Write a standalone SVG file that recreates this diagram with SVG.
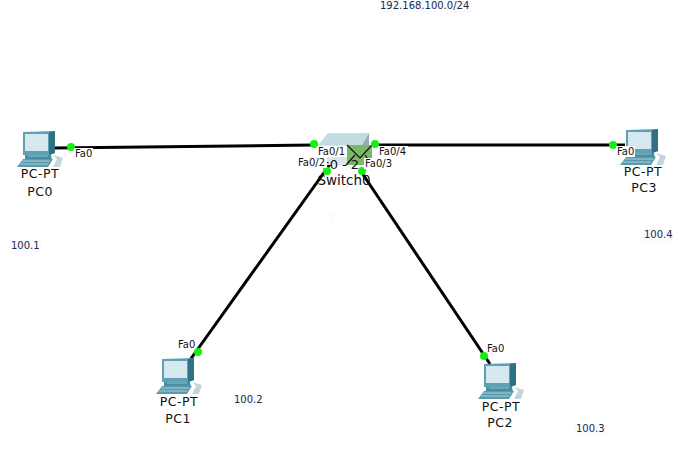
<svg xmlns="http://www.w3.org/2000/svg" width="687" height="458" viewBox="0 0 687 458">
<style>
text{font-family:"DejaVu Sans","Liberation Sans",sans-serif;fill:#111}
.name{font-size:12.5px;text-anchor:middle;letter-spacing:.5px}
.port{font-size:10px}
.note{font-size:10px;fill:#1a2a4a}
.lbl{fill:#fff}
.pale{fill:#fafbff}
.link{stroke:#000;stroke-width:3;fill:none}
.dot{fill:#14f014}
</style>
<defs>
<g id="pc">
<path d="M3 2L35 1V23L30 25H3Z" fill="#5fa0b3"/>
<path d="M29 2L35 1V23L29 25Z" fill="#2f7085"/>
<rect x="5" y="4" width="23" height="17" fill="#d6e8ef"/>
<path d="M5 25H31L32 30H5Z" fill="#4a8ea3"/>
<path d="M8 26H28" stroke="#8cc0cf"/>
<path d="M3 29H33L28 37H-3Z" fill="#5a9aad"/>
<path d="M2 31H30M0 34H28" stroke="#a6cfdb" fill="none"/>
<path d="M33 25L43 28L40 37H33L37 29Z" fill="#c2d6dc"/>
</g>
</defs>
<rect width="687" height="458" fill="#fff"/>
<g id="connectors">
<line class="link" x1="54" y1="148" x2="314" y2="145"/>
<line class="link" x1="374" y1="145" x2="625" y2="145"/>
<line class="link" x1="333" y1="160" x2="190" y2="360"/>
<line class="link" x1="360" y1="170" x2="490" y2="364"/>
</g>
<rect class="pale" x="329" y="213" width="5" height="12"/>
<g id="switch0">
<path d="M328 133H369L362 145H318Z" fill="#c4dde4"/>
<path d="M369 133V146L362 150V145Z" fill="#8fb0b8"/>
<path d="M318 145H347V165H318Z" fill="#dfe5e6"/>
<rect x="347" y="145" width="25" height="20" fill="#79b968"/>
<path d="M347 145L360 158L372 145M346 165L355 155M372 165L365 155" fill="none" stroke="#111" stroke-width="1.2"/>
<text x="344" y="185" font-size="13.5" text-anchor="middle">Switch0</text>
<text x="341" y="169" font-size="13" text-anchor="middle">s0 - 2</text>
</g>
<g id="pc0"><use href="#pc" x="20" y="130"/><text class="name" x="40" y="178">PC-PT</text><text class="name" x="40" y="196">PC0</text></g>
<g id="pc1"><use href="#pc" x="159" y="357"/><text class="name" x="179" y="406">PC-PT</text><text class="name" x="178" y="423">PC1</text></g>
<g id="pc2"><use href="#pc" x="481" y="362"/><text class="name" x="501" y="411">PC-PT</text><text class="name" x="500" y="427">PC2</text></g>
<g id="pc3"><use href="#pc" x="623" y="128"/><text class="name" x="643" y="176">PC-PT</text><text class="name" x="644" y="192">PC3</text></g>
<g id="ports">
<circle class="dot" cx="71" cy="147" r="4"/><circle class="dot" cx="314" cy="144" r="4"/><circle class="dot" cx="375" cy="144" r="4"/><circle class="dot" cx="613" cy="145" r="4"/>
<circle class="dot" cx="327" cy="171" r="4"/><circle class="dot" cx="362" cy="171" r="4"/><circle class="dot" cx="198" cy="352" r="4"/><circle class="dot" cx="484" cy="356" r="4"/>
<rect class="lbl" x="317" y="146" width="30" height="11"/><text class="port" x="318" y="155">Fa0/1</text>
<rect class="lbl" x="297" y="157" width="30" height="11"/><text class="port" x="298" y="166">Fa0/2</text>
<rect class="lbl" x="364" y="158" width="30" height="11"/><text class="port" x="365" y="167">Fa0/3</text>
<rect class="lbl" x="378" y="146" width="30" height="11"/><text class="port" x="379" y="155">Fa0/4</text>
<rect class="lbl" x="74" y="148" width="19" height="11"/><text class="port" x="75" y="157">Fa0</text>
<rect class="lbl" x="616" y="146" width="19" height="11"/><text class="port" x="617" y="155">Fa0</text>
<text class="port" x="178" y="348">Fa0</text><text class="port" x="487" y="352">Fa0</text>
</g>
<g id="notes">
<rect class="pale" x="378" y="0" width="94" height="13"/><text class="note" x="380" y="9">192.168.100.0/24</text>
<rect class="pale" x="9" y="240" width="32" height="13"/><text class="note" x="11" y="249">100.1</text>
<rect class="pale" x="232" y="394" width="32" height="13"/><text class="note" x="234" y="403">100.2</text>
<rect class="pale" x="574" y="423" width="32" height="13"/><text class="note" x="576" y="432">100.3</text>
<rect class="pale" x="642" y="229" width="32" height="13"/><text class="note" x="644" y="238">100.4</text>
</g>
</svg>
